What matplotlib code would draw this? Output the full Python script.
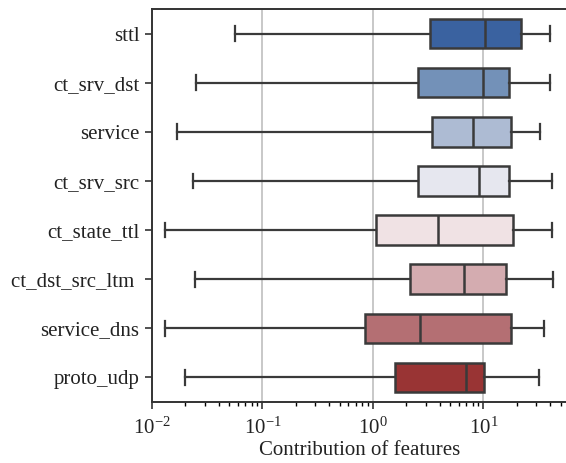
import matplotlib
matplotlib.use("Agg")
import matplotlib.pyplot as plt
from matplotlib.ticker import LogLocator

plt.rcParams['font.family'] = ['Liberation Serif', 'DejaVu Serif']
plt.rcParams['mathtext.fontset'] = 'stix'

# feature names, top to bottom
features = ['sttl', 'ct_srv_dst', 'service', 'ct_srv_src', 'ct_state_ttl',
            'ct_dst_src_ltm ', 'service_dns', 'proto_udp']

# box statistics (log scale)
whisker_low = [0.056, 0.025, 0.017, 0.0236, 0.0131, 0.0245, 0.0131, 0.0199]
q1 = [3.28, 2.54, 3.40, 2.54, 1.07, 2.16, 0.846, 1.59]
median = [10.3, 10.0, 8.09, 9.16, 3.87, 6.70, 2.66, 6.95]
q3 = [21.8, 17.0, 17.6, 17.0, 18.5, 16.0, 17.6, 10.2]
whisker_high = [40.0, 40.0, 32.4, 41.4, 41.4, 42.8, 35.3, 31.8]

colors = ['#3a62a0', '#7391b8', '#adbbd3', '#e6e7ef',
          '#f0e2e4', '#d4acb0', '#b46f73', '#993434']
edge = '#3a3a3a'

stats = []
for i, name in enumerate(features):
    stats.append({'label': name, 'whislo': whisker_low[i], 'q1': q1[i],
                  'med': median[i], 'q3': q3[i], 'whishi': whisker_high[i],
                  'fliers': []})

fig = plt.figure(figsize=(5.66, 4.63), dpi=100)
# axes run a little past the right edge of the figure (right spine is cut off)
ax = fig.add_axes([152 / 566, 61 / 463, 428 / 566, 393 / 463])

positions = list(range(len(features)))
bp = ax.bxp(stats, positions=positions, vert=False, widths=0.6,
            patch_artist=True, showfliers=False,
            boxprops=dict(edgecolor=edge, linewidth=1.8),
            medianprops=dict(color=edge, linewidth=1.8),
            whiskerprops=dict(color=edge, linewidth=1.6),
            capprops=dict(color=edge, linewidth=1.6))
for patch, c in zip(bp['boxes'], colors):
    patch.set_facecolor(c)
    patch.set_zorder(3)
for k in ['medians', 'whiskers', 'caps']:
    for ln in bp[k]:
        ln.set_zorder(4)

ax.set_xscale('log')
ax.set_xlim(0.01, 74.7)
ax.set_ylim(7.5, -0.5)
ax.set_yticks(positions)
ax.set_yticklabels(features)
ax.xaxis.set_major_locator(LogLocator(base=10, numticks=10))
ax.grid(axis='x', which='major', color='#c4c4c4', linewidth=1.3, zorder=0)
ax.set_axisbelow(True)

ax.tick_params(axis='both', labelsize=15, colors='#333333', labelcolor='#222222')
ax.tick_params(axis='y', length=5, width=1.2, pad=4)
ax.tick_params(axis='x', which='major', length=5, width=1.2, pad=6)
ax.tick_params(axis='x', which='minor', length=3, width=1.0)
ax.set_xlabel('Contribution of features', fontsize=15, color='#222222', labelpad=3)
# keep the label centred under the visible part of the axis
ax.xaxis.set_label_coords((360 - 152) / 428, -0.1)

for s in ax.spines.values():
    s.set_color('#333333')
    s.set_linewidth(1.4)

fig.savefig('out.png', dpi=100)
